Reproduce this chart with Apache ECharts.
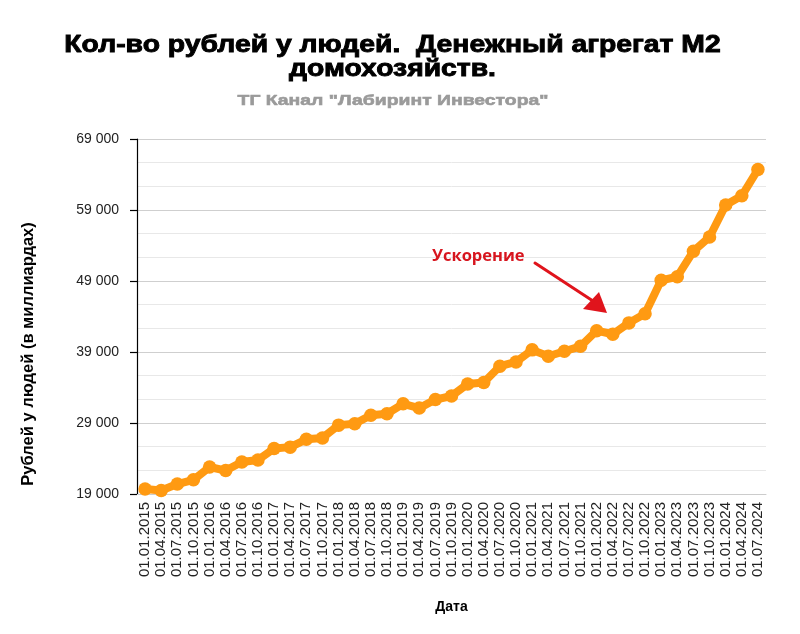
<!DOCTYPE html>
<html>
<head>
<meta charset="utf-8">
<script src="https://cdn.jsdelivr.net/npm/echarts@6/dist/echarts.min.js"></script>
<style>
html,body{margin:0;padding:0;background:#fff;}
#main{width:800px;height:634px;}
</style>
</head>
<body>
<div id="main"></div>
<script>
const categories = [
  '01.01.2015','01.04.2015','01.07.2015','01.10.2015',
  '01.01.2016','01.04.2016','01.07.2016','01.10.2016',
  '01.01.2017','01.04.2017','01.07.2017','01.10.2017',
  '01.01.2018','01.04.2018','01.07.2018','01.10.2018',
  '01.01.2019','01.04.2019','01.07.2019','01.10.2019',
  '01.01.2020','01.04.2020','01.07.2020','01.10.2020',
  '01.01.2021','01.04.2021','01.07.2021','01.10.2021',
  '01.01.2022','01.04.2022','01.07.2022','01.10.2022',
  '01.01.2023','01.04.2023','01.07.2023','01.10.2023',
  '01.01.2024','01.04.2024','01.07.2024'
];
const m2Values = [
  19700, 19500, 20400, 21000,
  22800, 22300, 23500, 23800,
  25400, 25600, 26700, 26900,
  28700, 28900, 30100, 30300,
  31700, 31100, 32300, 32800,
  34500, 34700, 37000, 37600,
  39300, 38400, 39100, 39800,
  42000, 41500, 43100, 44400,
  49100, 49600, 53200, 55200,
  59700, 61000, 64700
];
const yTicks = [19000, 29000, 39000, 49000, 59000, 69000];
const titleLines = ['Кол-во рублей у людей.  Денежный агрегат М2', 'домохозяйств.'];
const subtitleText = 'ТГ Канал "Лабиринт Инвестора"';
const yAxisTitle = 'Рублей у людей (в миллиардах)';
const xAxisTitle = 'Дата';
const annotationText = 'Ускорение';

const chart = echarts.init(document.getElementById('main'), null, {renderer: 'canvas'});
const font = '"Liberation Sans", Arial, sans-serif';

const option = {
  backgroundColor: '#ffffff',
  animation: false,
  grid: {left: 137, right: 34, top: 139, bottom: 140, containLabel: false},
  xAxis: {
    type: 'category',
    data: categories,
    boundaryGap: true,
    name: xAxisTitle,
    nameLocation: 'middle',
    nameGap: 106,
    nameTextStyle: {fontFamily: font, fontWeight: 'bold', fontSize: 14, color: '#000'},
    axisLine: {show: true, lineStyle: {color: '#cccccc', width: 1}},
    axisTick: {show: false},
    axisLabel: {interval: 0, rotate: 90, fontFamily: font, fontSize: 15, color: '#222', margin: 8}
  },
  yAxis: {
    type: 'value',
    min: yTicks[0],
    max: yTicks[yTicks.length - 1],
    interval: 10000,
    axisLine: {show: true, lineStyle: {color: '#000', width: 1.2}},
    axisTick: {show: true, length: 7, lineStyle: {color: '#000', width: 1.2}},
    axisLabel: {
      fontFamily: font, fontSize: 14, color: '#222', margin: 18,
      formatter: function (v) { return String(v).replace(/\B(?=(\d{3})+(?!\d))/g, ' '); }
    },
    splitLine: {show: true, lineStyle: {color: '#cfcfcf', width: 1.2}},
    minorTick: {show: false, splitNumber: 3},
    minorSplitLine: {show: true, lineStyle: {color: '#e8e8e8', width: 1}}
  },
  series: [{
    type: 'line',
    data: m2Values,
    symbol: 'circle',
    symbolSize: 13.5,
    showAllSymbol: true,
    lineStyle: {color: '#ff9a12', width: 8},
    itemStyle: {color: '#ff9a12', borderWidth: 0},
    z: 3
  }],
  graphic: [
    {
      type: 'text', x: 392.5, y: 45, scaleX: 1.18, z: 100,
      style: {text: titleLines[0], font: 'bold 24px ' + font, fill: '#000', stroke: '#000', lineWidth: 0.9,
              align: 'center', verticalAlign: 'middle'}
    },
    {
      type: 'text', x: 392.5, y: 69.5, scaleX: 1.18, z: 100,
      style: {text: titleLines[1], font: 'bold 24px ' + font, fill: '#000', stroke: '#000', lineWidth: 0.9,
              align: 'center', verticalAlign: 'middle'}
    },
    {
      type: 'text', x: 393, y: 101, scaleX: 1.25, z: 100,
      style: {text: subtitleText, font: 'bold 15.5px ' + font, fill: '#9a9a9a', stroke: '#9a9a9a', lineWidth: 0.6,
              align: 'center', verticalAlign: 'middle'}
    },
    {
      type: 'text', x: 28.5, y: 354, rotation: Math.PI / 2, z: 100,
      style: {text: yAxisTitle, font: 'bold 16.5px ' + font, fill: '#000',
              align: 'center', verticalAlign: 'middle'}
    },
    {
      type: 'text', left: 432, top: 248, z: 100,
      style: {
        text: annotationText,
        font: 'bold 16.5px "Open Sans", "Noto Sans", sans-serif',
        fill: '#d7151e',
        shadowColor: 'rgba(0,0,0,0.35)', shadowBlur: 2, shadowOffsetX: 1, shadowOffsetY: 1
      }
    },
    {
      type: 'line', z: 100,
      shape: {x1: 535, y1: 263, x2: 593, y2: 301},
      style: {stroke: '#e0141c', lineWidth: 3, lineCap: 'round'}
    },
    {
      type: 'polygon', z: 100,
      shape: {points: [[607, 313], [583, 309], [599, 292]]},
      style: {fill: '#e0141c'}
    }
  ]
};
chart.setOption(option);
</script>
</body>
</html>
